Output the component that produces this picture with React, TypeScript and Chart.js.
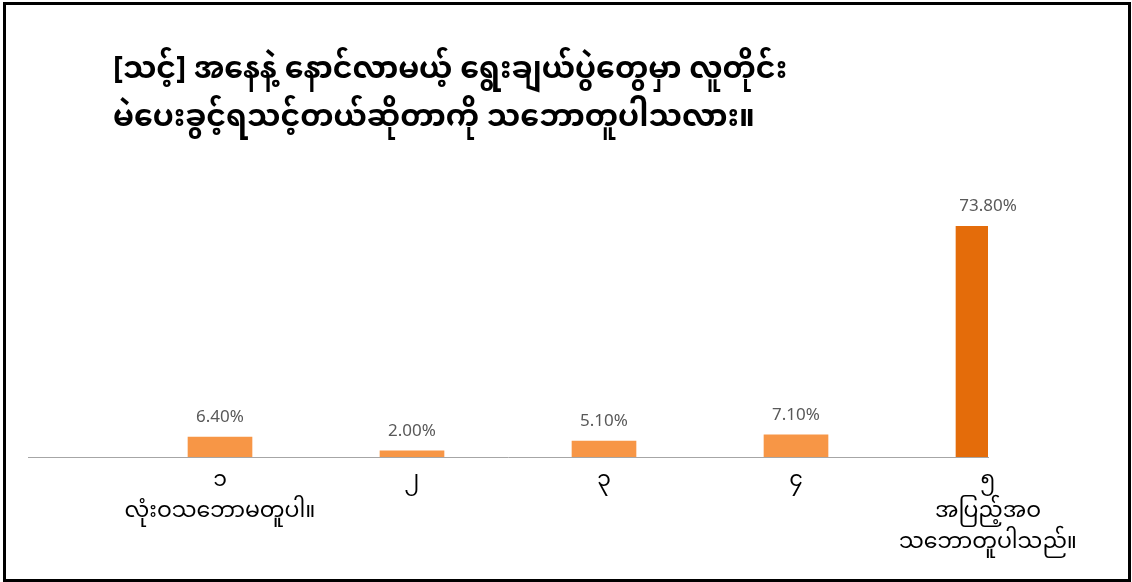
import React, { useEffect, useRef } from "react";
import { Chart, registerables } from "chart.js";

Chart.register(...registerables);

const titleLines = [
  "[သင့်] အနေနဲ့ နောင်လာမယ့် ရွေးချယ်ပွဲတွေမှာ လူတိုင်း",
  "မဲပေးခွင့်ရသင့်တယ်ဆိုတာကို သဘောတူပါသလား။",
];
const categoryPositions = [1, 2, 3, 4, 5];
const categoryLabels = [
  ["၁", "လုံးဝသဘောမတူပါ။"],
  ["၂"],
  ["၃"],
  ["၄"],
  ["၅", "အပြည့်အဝ", "သဘောတူပါသည်။"],
];
const values = [6.4, 2.0, 5.1, 7.1, 73.8];
const valueLabels = ["6.40%", "2.00%", "5.10%", "7.10%", "73.80%"];
const barColors = ["#F79646", "#F79646", "#F79646", "#F79646", "#E46C0A"];

const MM_FONT = '"Noto Sans Myanmar", "Myanmar Text", "Padauk", "Noto Sans", sans-serif';

const valueLabelPlugin = {
  id: "valueLabels",
  afterDatasetsDraw(chart: any) {
    const ctx = chart.ctx;
    const meta = chart.getDatasetMeta(0);
    ctx.save();
    ctx.font = '17px "Noto Sans", "Liberation Sans", sans-serif';
    ctx.fillStyle = "#595959";
    ctx.textAlign = "center";
    ctx.textBaseline = "alphabetic";
    meta.data.forEach((bar: any, i: number) => {
      ctx.fillText(valueLabels[i], bar.x, bar.y - 15);
    });
    ctx.restore();
  },
};

export default function App() {
  const canvasRef = useRef<HTMLCanvasElement | null>(null);

  useEffect(() => {
    document.body.style.margin = "0";
    const canvas = canvasRef.current;
    if (!canvas) return;
    const chart = new Chart(canvas, {
      type: "bar",
      data: {
        datasets: [
          {
            data: categoryPositions.map((x, i) => ({ x, y: values[i] })),
            backgroundColor: barColors,
            borderWidth: 0,
            barThickness: 64,
            clip: 0,
          } as any,
        ],
      },
      options: {
        responsive: false,
        animation: false,
        events: [],
        layout: { padding: { left: 22, right: 140, top: 202, bottom: 0 } },
        plugins: {
          legend: { display: false },
          title: { display: false },
          tooltip: { enabled: false },
        },
        scales: {
          x: {
            type: "linear",
            offset: false,
            min: 0,
            max: 5,
            afterBuildTicks: (scale: any) => {
              scale.ticks = categoryPositions.map((v) => ({ value: v }));
            },
            afterFit: (scale: any) => {
              scale.height = 122;
            },
            grid: { display: false, drawTicks: false },
            border: { display: true, color: "#A6A6A6", width: 1 },
            ticks: {
              autoSkip: false,
              maxRotation: 0,
              minRotation: 0,
              padding: 11,
              color: "#000000",
              font: { family: MM_FONT, size: 22, lineHeight: "31px" } as any,
              callback: (v: any) => {
                const idx = categoryPositions.indexOf(Number(v));
                return idx >= 0 ? categoryLabels[idx] : "";
              },
            },
          },
          y: {
            type: "linear",
            min: 0,
            max: 80,
            display: false,
          },
        },
      },
      plugins: [valueLabelPlugin],
    });
    return () => chart.destroy();
  }, []);

  return (
    <div
      style={{
        position: "absolute",
        left: 3,
        top: 2,
        width: 1128,
        height: 580,
        boxSizing: "border-box",
        border: "3px solid #000",
        background: "#fff",
        overflow: "hidden",
      }}
    >
      <div
        style={{
          position: "absolute",
          left: 107,
          top: 42,
          fontFamily: MM_FONT,
          fontSize: 30,
          fontWeight: "bold",
          lineHeight: "48px",
          color: "#000",
          whiteSpace: "nowrap",
          zIndex: 1,
        }}
      >
        {titleLines.map((t, i) => (
          <div key={i}>{t}</div>
        ))}
      </div>
      <canvas ref={canvasRef} width={1122} height={574} style={{ display: "block" }} />
    </div>
  );
}
